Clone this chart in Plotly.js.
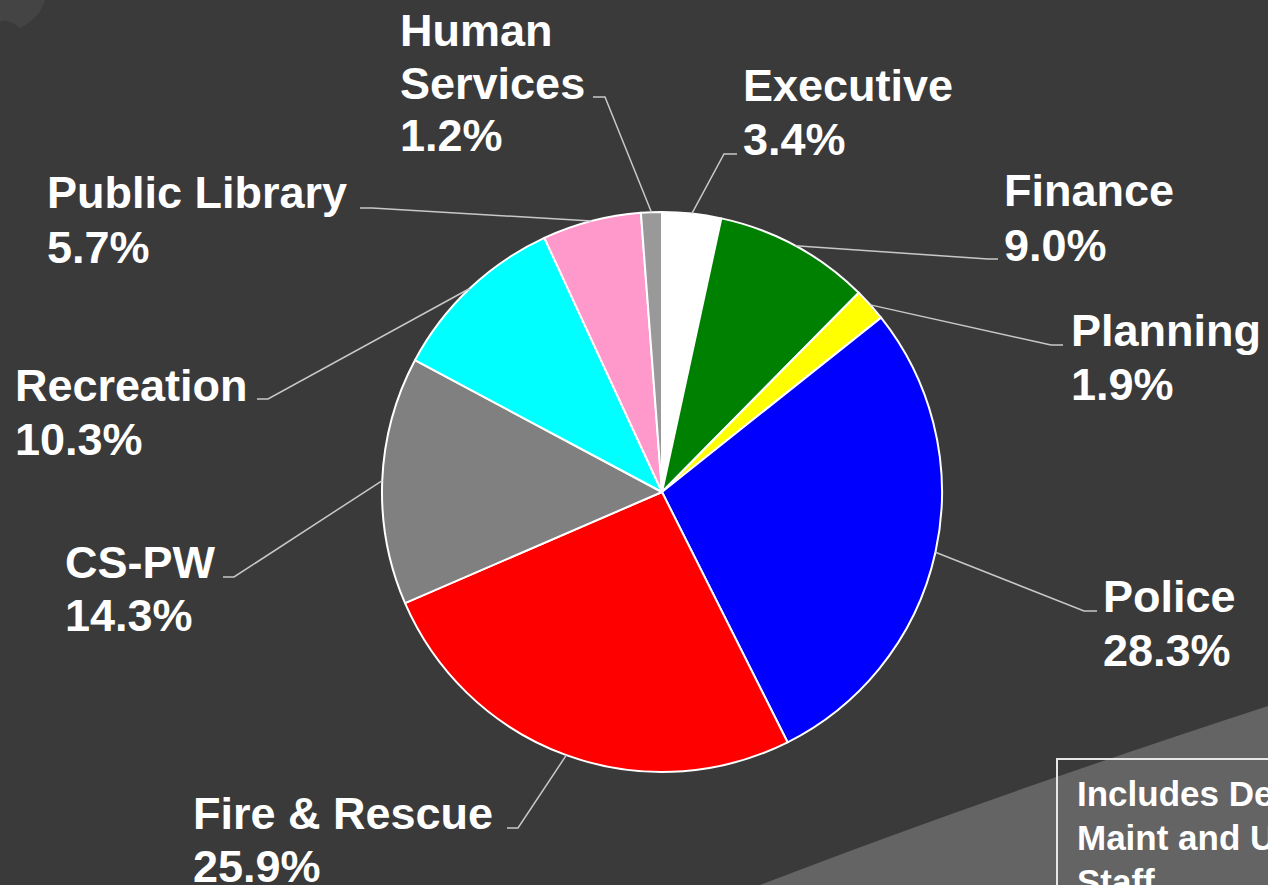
<!DOCTYPE html>
<html>
<head>
<meta charset="utf-8">
<script src="https://cdn.plot.ly/plotly-3.0.1.min.js"></script>
<style>
  html, body { margin: 0; padding: 0; background: #3a3a3a; }
  #chart { width: 1268px; height: 885px; }
</style>
</head>
<body>
<div id="chart"></div>
<script>
// ---- Data ----
const categories = ["Executive", "Finance", "Planning", "Police", "Fire & Rescue", "CS-PW", "Recreation", "Public Library", "Human Services"];
const values = [3.4, 9.0, 1.9, 28.3, 25.9, 14.3, 10.3, 5.7, 1.2];
const colors = ["#ffffff", "#008000", "#ffff00", "#0000ff", "#ff0000", "#808080", "#00ffff", "#ff99cc", "#999999"];
const noteLines = ["Includes Dept.", "Maint and Utility", "Staff"];

// ---- Layout helpers (pixel positions of labels) ----
const W = 1268, H = 885;
const CX = 662, CY = 492, R = 280;
const wrap = { "Human Services": ["Human", "Services"] };
// left x, first-line centre y, line gap, leader stub start x, stub end x, stub y
const labelPos = [
  { x: 741,  y: 85,  gap: 54, sx0: 737,  sx1: 724,  sy: 154 },
  { x: 1002, y: 190, gap: 55, sx0: 998,  sx1: 988,  sy: 259 },
  { x: 1069, y: 330, gap: 54, sx0: 1063, sx1: 1051, sy: 345 },
  { x: 1101, y: 596, gap: 54, sx0: 1097, sx1: 1084, sy: 611 },
  { x: 191,  y: 813, gap: 53, sx0: 507,  sx1: 518,  sy: 828 },
  { x: 63,   y: 562, gap: 53, sx0: 223,  sx1: 234,  sy: 577 },
  { x: 13,   y: 385, gap: 54, sx0: 257,  sx1: 268,  sy: 399 },
  { x: 45,   y: 193, gap: 54, sx0: 360,  sx1: 372,  sy: 208 },
  { x: 398,  y: 30,  gap: 53, sx0: 593,  sx1: 605,  sy: 97 }
];

const px = x => x / W;
const py = y => 1 - y / H;

const FONT = "Liberation Sans, Arial, sans-serif";
const annotations = [];
const shapes = [];

// background swooshes
shapes.push({
  type: "path", xref: "paper", yref: "paper", layer: "below",
  path: `M ${px(760)} ${py(885)} Q ${px(980)} ${py(800)} ${px(1268)} ${py(706)} L ${px(1268)} ${py(885)} Z`,
  fillcolor: "#646464", line: { width: 0 }
});
shapes.push({
  type: "path", xref: "paper", yref: "paper", layer: "below",
  path: `M ${px(0)} ${py(0)} L ${px(45)} ${py(0)} Q ${px(40)} ${py(18)} ${px(20)} ${py(28)} Q ${px(8)} ${py(18)} ${px(0)} ${py(22)} Z`,
  fillcolor: "rgba(255,255,255,0.05)", line: { width: 0 }
});

// labels & leader lines, computed from data
const total = values.reduce((a, b) => a + b, 0);
let cum = 0;
values.forEach((v, i) => {
  const mid = (cum + v / 2) / total * 2 * Math.PI;
  cum += v;
  const ex = CX + R * Math.sin(mid);
  const ey = CY - R * Math.cos(mid);
  const p = labelPos[i];
  const lines = (wrap[categories[i]] || [categories[i]]).concat([v.toFixed(1) + "%"]);
  lines.forEach((t, k) => {
    annotations.push({
      xref: "paper", yref: "paper", x: px(p.x), y: py(p.y + k * p.gap),
      xanchor: "left", yanchor: "middle", showarrow: false, text: "<b>" + t + "</b>",
      font: { family: FONT, size: 45, color: "#ffffff" }
    });
  });
  shapes.push({
    type: "path", xref: "paper", yref: "paper",
    path: `M ${px(p.sx0)} ${py(p.sy)} L ${px(p.sx1)} ${py(p.sy)} L ${px(ex)} ${py(ey)}`,
    line: { color: "#c8c8c8", width: 1.5 }
  });
});

// note box
shapes.push({
  type: "rect", xref: "paper", yref: "paper",
  x0: px(1057), x1: px(1300), y0: py(759), y1: py(920),
  line: { color: "#e6e6e6", width: 2 }, fillcolor: "rgba(0,0,0,0)"
});
noteLines.forEach((t, k) => {
  annotations.push({
    xref: "paper", yref: "paper", x: px(1075), y: py(793 + k * 44),
    xanchor: "left", yanchor: "middle", showarrow: false, text: "<b>" + t + "</b>",
    font: { family: FONT, size: 35, color: "#ffffff" }
  });
});

const trace = {
  type: "pie",
  labels: categories,
  values: values,
  sort: false,
  direction: "clockwise",
  rotation: 0,
  marker: { colors: colors, line: { color: "#ffffff", width: 2 } },
  textinfo: "none",
  hoverinfo: "skip",
  showlegend: false,
  domain: { x: [px(CX - R), px(CX + R)], y: [py(CY + R), py(CY - R)] }
};

const layout = {
  width: W, height: H,
  margin: { l: 0, r: 0, t: 0, b: 0 },
  paper_bgcolor: "#3a3a3a",
  plot_bgcolor: "#3a3a3a",
  showlegend: false,
  annotations: annotations,
  shapes: shapes
};

Plotly.newPlot("chart", [trace], layout, { displayModeBar: false, staticPlot: true });
</script>
</body>
</html>
